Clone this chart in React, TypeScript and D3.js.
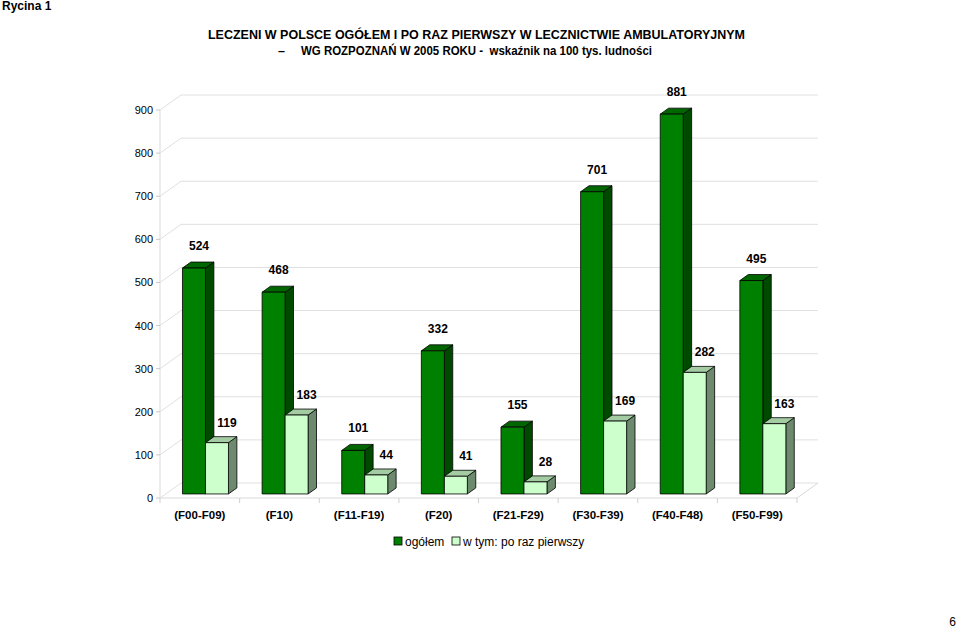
import React from "react";
import * as d3 from "d3";

const categories = ["(F00-F09)", "(F10)", "(F11-F19)", "(F20)", "(F21-F29)", "(F30-F39)", "(F40-F48)", "(F50-F99)"];
const totalValues = [524, 468, 101, 332, 155, 701, 881, 495];
const firstTimeValues = [119, 183, 44, 41, 28, 169, 282, 163];
const yTicks = [0, 100, 200, 300, 400, 500, 600, 700, 800, 900];
const seriesNames = ["ogółem", "w tym: po raz pierwszy"];

const W = 960, H = 633;
const FONT = "Arial, 'Liberation Sans', sans-serif";

const floorY = 498;
const leftX = 160;
const rightX = 797;
const DX = 21, DY = -15;
const f0 = 0.27, f1 = 0.67;

const colors = {
  dark: { front: "#008000", side: "#004a00", top: "#006600" },
  light: { front: "#ccffcc", side: "#6e8a6e", top: "#a3cca3" },
};

export default function App() {
  const xBand = d3.scaleBand<string>().domain(categories).range([leftX, rightX]);
  const h = d3.scaleLinear().domain([0, 900]).range([0, 388]);
  const bw = xBand.bandwidth();
  const barW = 23;
  const pairOff = (bw - barW * 2) / 2;

  const fx0 = DX * f0, fy0 = DY * f0;
  const ddx = DX * (f1 - f0), ddy = DY * (f1 - f0);

  const bar = (x: number, v: number, c: { front: string; side: string; top: string }, key: string) => {
    const bottom = floorY + fy0;
    const top = bottom - h(v);
    const xl = x, xr = x + barW;
    const front = `M${xl},${top}L${xr},${top}L${xr},${bottom}L${xl},${bottom}Z`;
    const side = `M${xr},${top}L${xr + ddx},${top + ddy}L${xr + ddx},${bottom + ddy}L${xr},${bottom}Z`;
    const topF = `M${xl},${top}L${xl + ddx},${top + ddy}L${xr + ddx},${top + ddy}L${xr},${top}Z`;
    return (
      <g key={key}>
        <path d={side} fill={c.side} stroke="#000" strokeWidth={0.8} strokeLinejoin="round" />
        <path d={topF} fill={c.top} stroke="#000" strokeWidth={0.8} strokeLinejoin="round" />
        <path d={front} fill={c.front} stroke="#000" strokeWidth={0.8} strokeLinejoin="round" />
      </g>
    );
  };

  return (
    <svg width={W} height={H} style={{ position: "absolute", left: 0, top: 0, background: "#fff" }} fontFamily={FONT}>
      <rect x={0} y={0} width={W} height={H} fill="#fff" />
      <text x={2} y={10} fontSize={12} fontWeight="bold">Rycina 1</text>
      <text x={208} y={39} fontSize={12.5} fontWeight="bold" textLength={537} lengthAdjust="spacingAndGlyphs">
        LECZENI W POLSCE OGÓŁEM I PO RAZ PIERWSZY W LECZNICTWIE AMBULATORYJNYM
      </text>
      <text x={278} y={54.5} fontSize={12.5} fontWeight="bold">–</text>
      <text x={301} y={54.5} fontSize={12.5} fontWeight="bold" textLength={351} lengthAdjust="spacingAndGlyphs" style={{ whiteSpace: "pre" }}>
        {"WG ROZPOZNAŃ W 2005 ROKU -  wskaźnik na 100 tys. ludności"}
      </text>

      {/* left wall */}
      <line x1={leftX} y1={floorY - h(900)} x2={leftX} y2={floorY} stroke="#d9d9d9" />
      {yTicks.map((t) => (
        <g key={t}>
          <line x1={leftX} y1={floorY - h(t)} x2={leftX + DX} y2={floorY - h(t) + DY} stroke="#e0e0e0" />
          <line x1={leftX + DX} y1={floorY - h(t) + DY} x2={rightX + DX} y2={floorY - h(t) + DY} stroke="#e0e0e0" />
          <line x1={leftX - 4} y1={floorY - h(t)} x2={leftX} y2={floorY - h(t)} stroke="#c8c8c8" />
          <text x={153} y={floorY - h(t) + 4} fontSize={11} textAnchor="end">{t}</text>
        </g>
      ))}
      {/* floor */}
      <line x1={leftX} y1={floorY} x2={rightX} y2={floorY} stroke="#d9d9d9" />
      <line x1={rightX} y1={floorY} x2={rightX + DX} y2={floorY + DY} stroke="#d9d9d9" />
      {d3.range(categories.length + 1).map((i) => {
        const x = leftX + i * bw;
        return <line key={i} x1={x} y1={floorY} x2={x} y2={floorY + 5} stroke="#d0d0d0" />;
      })}

      {categories.map((c, i) => {
        const bx = (xBand(c) as number) + pairOff + fx0;
        return (
          <g key={c}>
            {bar(bx, totalValues[i], colors.dark, "d")}
            {bar(bx + barW, firstTimeValues[i], colors.light, "l")}
          </g>
        );
      })}

      {categories.map((c, i) => {
        const bx = (xBand(c) as number) + pairOff + fx0;
        const bottom = floorY + fy0;
        return (
          <g key={c} fontSize={12} fontWeight="bold" textAnchor="middle">
            <text x={bx + barW / 2 + 5} y={bottom - h(totalValues[i]) - 18}>{totalValues[i]}</text>
            <text x={bx + barW * 1.5 + 10} y={bottom - h(firstTimeValues[i]) - 16}>{firstTimeValues[i]}</text>
            <text x={(xBand(c) as number) + bw / 2} y={floorY + 21} fontSize={11.5}>{c}</text>
          </g>
        );
      })}

      {/* legend */}
      <rect x={394} y={537} width={8} height={8} fill={colors.dark.front} stroke="#000" strokeWidth={0.8} />
      <text x={405} y={545.5} fontSize={12}>{seriesNames[0]}</text>
      <rect x={452} y={537} width={8} height={8} fill={colors.light.front} stroke="#000" strokeWidth={0.8} />
      <text x={463} y={545.5} fontSize={12}>{seriesNames[1]}</text>

      <text x={956} y={626} fontSize={12} textAnchor="end">6</text>
    </svg>
  );
}
